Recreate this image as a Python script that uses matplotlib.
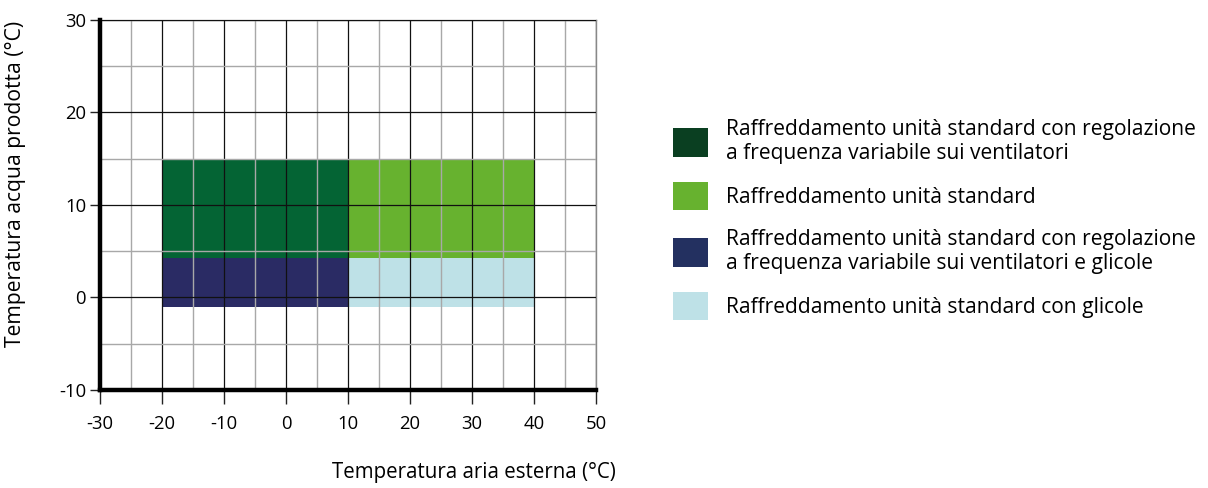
import matplotlib.pyplot as plt
import matplotlib.patches as mpatches
from matplotlib.ticker import MultipleLocator

plt.rcParams["font.family"] = ["Open Sans", "DejaVu Sans"]
plt.rcParams["axes.unicode_minus"] = False

# operating envelopes: (x_min, x_max, y_min, y_max)
labels = [
    "Raffreddamento unità standard con regolazione\na frequenza variabile sui ventilatori",
    "Raffreddamento unità standard",
    "Raffreddamento unità standard con regolazione\na frequenza variabile sui ventilatori e glicole",
    "Raffreddamento unità standard con glicole",
]
x_min = [-20, 10, -20, 10]
x_max = [10, 40, 10, 40]
y_min = [4.3, 4.3, -1, -1]
y_max = [15, 15, 4.3, 4.3]
fill_colors = ["#046434", "#67b22f", "#2a2b64", "#bee1e7"]
legend_colors = ["#0a3f21", "#67b22f", "#233060", "#bee1e7"]

x_ticks = [-30, -20, -10, 0, 10, 20, 30, 40, 50]
y_ticks = [-10, 0, 10, 20, 30]

fig = plt.figure(figsize=(12.08, 4.88), dpi=100)
ax = fig.add_axes([0.0828, 0.201, 0.4106, 0.758])

for x0, x1, y0, y1, c in zip(x_min, x_max, y_min, y_max, fill_colors):
    ax.add_patch(mpatches.Rectangle((x0, y0), x1 - x0, y1 - y0, facecolor=c,
                                    edgecolor="none", zorder=1))

ax.set_xlim(-30, 50)
ax.set_ylim(-10, 30)
ax.set_xticks(x_ticks)
ax.set_yticks(y_ticks)
ax.xaxis.set_minor_locator(MultipleLocator(5))
ax.yaxis.set_minor_locator(MultipleLocator(5))
ax.set_axisbelow(False)
ax.grid(which="minor", color="#a8a8a8", lw=1.0, zorder=2)
ax.grid(which="major", color="#111111", lw=0.9, zorder=3)
ax.tick_params(which="minor", length=0)
ax.tick_params(axis="x", which="major", length=10, width=1, color="#222222",
               labelsize=13.3, pad=8)
ax.tick_params(axis="y", which="major", length=7, width=1, color="#222222",
               labelsize=13.3, pad=3)

for side in ["top", "right"]:
    ax.spines[side].set_color("#888888")
    ax.spines[side].set_linewidth(1)
for side in ["left", "bottom"]:
    ax.spines[side].set_color("black")
    ax.spines[side].set_linewidth(3.2)
    ax.spines[side].set_zorder(5)

fig.text(0.0125, 0.623, "Temperatura acqua prodotta (°C)", rotation=90,
         ha="center", va="center", fontsize=15.2)
fig.text(0.3925, 0.031, "Temperatura aria esterna (°C)", ha="center",
         va="center", fontsize=14.8)

handles = [mpatches.Patch(facecolor=c, edgecolor="none") for c in legend_colors]
fig.legend(handles, labels, loc="center left", bbox_to_anchor=(0.557, 0.55),
           frameon=False, fontsize=15.1, handlelength=1.68, handleheight=1.7,
           handletextpad=0.85, labelspacing=0.87, borderpad=0, borderaxespad=0)

fig.savefig("out.png", dpi=100)
